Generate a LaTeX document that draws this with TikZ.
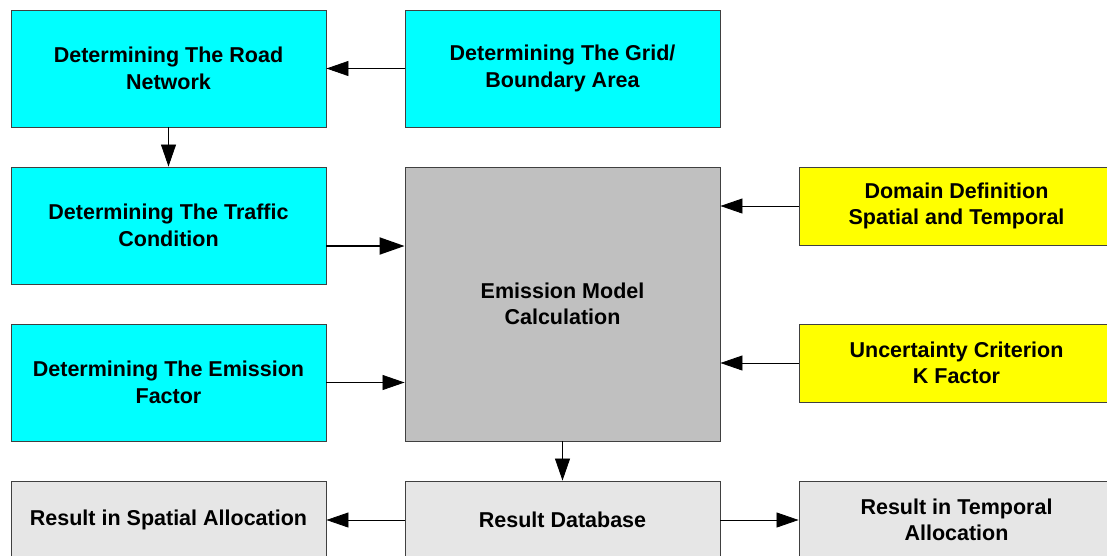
\documentclass[tikz,border=0pt]{standalone}
\usepackage{fontspec}
\setmainfont{Liberation Sans}
\usetikzlibrary{arrows.meta}
\definecolor{boxcyan}{RGB}{0,255,255}
\definecolor{boxyellow}{RGB}{255,255,0}
\definecolor{boxgray}{RGB}{192,192,192}
\definecolor{boxlight}{RGB}{230,230,230}
\begin{document}
\begin{tikzpicture}[x=1pt,y=-1pt,
  box/.style={draw=black!75, line width=0.9pt, align=center, inner sep=0pt,
    minimum width=315pt, font=\fontsize{21.5}{26.5}\selectfont\bfseries},
  cbox/.style={box, fill=boxcyan, minimum height=117pt},
  ybox/.style={box, fill=boxyellow, minimum height=78pt},
  gbox/.style={box, fill=boxgray, minimum height=274pt},
  rbox/.style={box, fill=boxlight, minimum height=78pt},
  arr/.style={line width=0.8pt, -{Triangle[length=22pt,width=15pt]}},
  tarr/.style={line width=2pt, -{Triangle[length=25pt,width=17pt]}}]
\useasboundingbox (0,0) rectangle (1107,555);
\clip (0,0) rectangle (1107,555);
\node[cbox] (road) at (168.5,68.5) {Determining The Road\\Network};
\node[cbox] (grid) at (562.5,68.5) {Determining The Grid/\\Boundary Area};
\node[cbox] (traffic) at (168.5,225.5) {Determining The Traffic\\Condition};
\node[cbox] (factor) at (168.5,382.5) {Determining The Emission\\Factor};
\node[gbox] (emis) at (562.5,304) {Emission Model\\Calculation};
\node[ybox] (domain) at (956.5,206) {Domain Definition\\Spatial and Temporal};
\node[ybox] (unc) at (956.5,363) {Uncertainty Criterion\\K Factor};
\node[rbox] (spatial) at (168.5,520) {Result in Spatial Allocation};
\node[rbox] (db) at (562.5,520) {Result Database};
\node[rbox] (temporal) at (956.5,520) {Result in Temporal\\Allocation};
\draw[arr] (grid.west) -- (road.east);
\draw[arr] (road.south) -- (traffic.north);
\draw[tarr] (traffic.east |- 0,246) -- (emis.west |- 0,246);
\draw[arr] (factor.east) -- (emis.west |- factor.east);
\draw[arr] (domain.west) -- (emis.east |- domain.west);
\draw[arr] (unc.west) -- (emis.east |- unc.west);
\draw[arr] (emis.south) -- (db.north);
\draw[arr] (db.west) -- (spatial.east);
\draw[arr] (db.east) -- (temporal.west);
\end{tikzpicture}
\end{document}
